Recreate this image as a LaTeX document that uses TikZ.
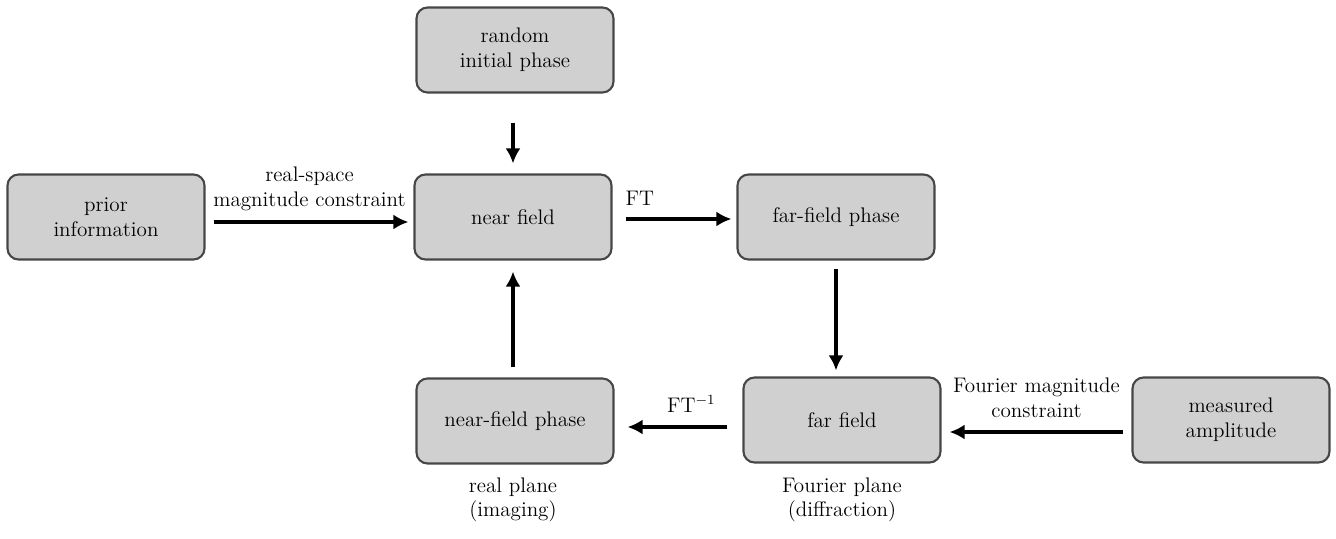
\documentclass[tikz,border=0pt]{standalone}
\usepackage{amsmath}
\usepackage{tikz}
\usetikzlibrary{arrows.meta}

\definecolor{boxgray}{RGB}{208,208,208}
\definecolor{edgegray}{RGB}{70,70,70}

\tikzset{
	blk/.style={draw=edgegray, line width=1.2pt, fill=boxgray, rounded corners=0.22cm,
		minimum width=3.94cm, minimum height=1.70cm, align=center, font=\large},
	arr/.style={line width=2pt, -{Latex[length=3mm,width=3mm]}},
	lbl/.style={align=center, font=\large}
}

\begin{document}
\begin{tikzpicture}
				\useasboundingbox (0,0) rectangle (26.72,10.76);
				
				% Boxes
				\node[blk] (random) at (10.30, 9.76) {random\\initial phase};
				\node[blk] (prior) at (2.12, 6.42) {prior\\information};
				\node[blk] (near) at (10.26, 6.42) {near field};
				\node[blk] (farphase) at (16.72, 6.42) {far-field phase};
				\node[blk] (nearphase) at (10.30, 2.34) {near-field phase};
				\node[blk] (far) at (16.84, 2.36) {far field};
				\node[blk] (measured) at (24.62, 2.36) {measured\\amplitude};
				
				% Arrows
				\draw[arr, shorten <=0.58cm, shorten >=0.2cm] (random.south -| near) -- (near.north); % from random phase down
				\draw[arr, shorten <=0.16cm, shorten >=0.1cm] ([yshift=-0.1cm]prior.east) -- ([yshift=-0.1cm]near.west)
					node[lbl, midway, above=0.08cm] {real-space\\magnitude constraint};
				\draw[arr, shorten <=0.26cm, shorten >=0.1cm] ([yshift=-0.04cm]near.east) -- ([yshift=-0.04cm]farphase.west)
					node[lbl, pos=0.22, above=0.12cm] {FT};
				\draw[arr, shorten <=0.16cm, shorten >=0.12cm] (farphase) -- (farphase |- far.north);
				\draw[arr, shorten <=0.3cm, shorten >=0.26cm] ([yshift=-0.14cm]far.west) -- ([yshift=-0.14cm]far.west -| nearphase.east)
					node[lbl, pos=0.4, above=0.14cm] {FT$^{-1}$};
				\draw[arr, shorten <=0.16cm, shorten >=0.16cm] ([yshift=-0.24cm]measured.west) -- ([yshift=-0.24cm]far.east)
					node[lbl, midway, above=0.14cm] {Fourier magnitude\\constraint};
				\draw[arr, shorten <=0.2cm, shorten >=0.22cm] (nearphase.north -| near) -- (near.south); % back up
				
				% Planes
				\node[lbl] (realplane) at (10.26, 0.76) {real plane\\(imaging)};
				\node[lbl] (fourierplane) at (16.84, 0.76) {Fourier plane\\(diffraction)};
			\end{tikzpicture}
\end{document}
